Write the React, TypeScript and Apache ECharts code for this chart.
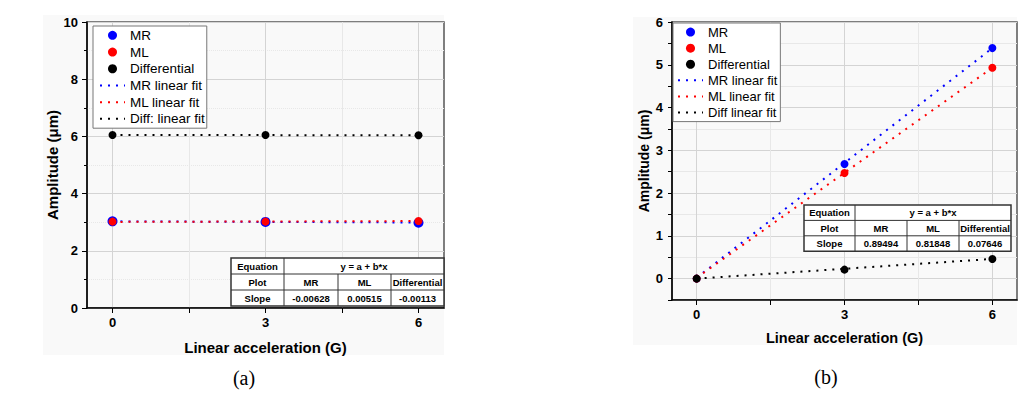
import React, { useEffect, useRef } from "react";
import * as echarts from "echarts";

// ---------- data ----------
const xValues = [0, 3, 6];
const fitX = [0, 6];

// panel (a)
const mrA = [3.03, 3.01, 2.98];
const mlA = [3.02, 3.02, 3.04];
const diffA = [6.05, 6.05, 6.04];
const mrFitA = [3.03, 2.99];
const mlFitA = [3.01, 3.04];
const diffFitA = [6.05, 6.04];

// panel (b)
const mrB = [0, 2.68, 5.39];
const mlB = [0, 2.47, 4.93];
const diffB = [0, 0.21, 0.46];
const mrFitB = [0.02, 5.39];
const mlFitB = [0.02, 4.93];
const diffFitB = [0.0, 0.46];

// ticks
const xTicks = [0, 1.5, 3, 4.5, 6];
const xTickLabels = [0, 3, 6];
const yTicksB = [-0.5, 0, 0.5, 1, 1.5, 2, 2.5, 3, 3.5, 4, 4.5, 5, 5.5, 6];
const yTickLabelsB = [0, 1, 2, 3, 4, 5, 6];

// legends
const legendA = ["MR", "ML", "Differential", "MR linear fit", "ML linear fit", "Diff: linear fit"];
const legendB = ["MR", "ML", "Differential", "MR linear fit", "ML linear fit", "Diff linear fit"];
const fitNames = ["MR linear fit", "ML linear fit", "Diff: linear fit", "Diff linear fit"];

// tables
const tableHeader = ["Equation", "y = a + b*x"];
const tableCols = ["Plot", "MR", "ML", "Differential"];
const slopeLabel = "Slope";
const slopesA = ["-0.00628", "0.00515", "-0.00113"];
const slopesB = ["0.89494", "0.81848", "0.07646"];

const captions = ["(a)", "(b)"];

// ---------- styles ----------
const SANS = "'Liberation Sans', Arial, sans-serif";
const BLUE = "#0000ff";
const RED = "#ff0000";
const BLACK = "#000000";
const MAJOR = "#d4d4d4";
const MINOR = "#e8e8e8";

function pts(xs: number[], ys: number[]) {
  return xs.map((x, i) => [x, ys[i]]);
}

function buildTable(x0: number, y0: number, colW: number[], rowH: number, slopes: string[], z: number) {
  const children: any[] = [];
  const totalW = colW.reduce((a, b) => a + b, 0);
  const totalH = rowH * 3;
  const font = `bold 9.5px ${SANS}`;
  const stroke = { stroke: "#333", lineWidth: 1 };
  children.push({
    type: "rect",
    z,
    shape: { x: x0, y: y0, width: totalW, height: totalH },
    style: { fill: "#ffffff", stroke: "#333", lineWidth: 1.5 },
  });
  for (let r = 1; r < 3; r++) {
    children.push({
      type: "line",
      z: z + 1,
      shape: { x1: x0, y1: y0 + r * rowH, x2: x0 + totalW, y2: y0 + r * rowH },
      style: stroke,
    });
  }
  let cx = x0;
  colW.forEach((w, i) => {
    cx += w;
    if (i < colW.length - 1) {
      children.push({
        type: "line",
        z: z + 1,
        shape: { x1: cx, y1: i === 0 ? y0 : y0 + rowH, x2: cx, y2: y0 + totalH },
        style: stroke,
      });
    }
  });
  const colCenters: number[] = [];
  let acc = x0;
  colW.forEach((w) => {
    colCenters.push(acc + w / 2);
    acc += w;
  });
  const txt = (s: string, x: number, y: number) => ({
    type: "text",
    z: z + 2,
    x,
    y,
    style: { text: s, font, fill: "#000", align: "center", verticalAlign: "middle" },
  });
  children.push(txt(tableHeader[0], colCenters[0], y0 + rowH / 2));
  children.push(txt(tableHeader[1], x0 + colW[0] + (totalW - colW[0]) / 2, y0 + rowH / 2));
  tableCols.forEach((c, i) => children.push(txt(c, colCenters[i], y0 + rowH * 1.5)));
  children.push(txt(slopeLabel, colCenters[0], y0 + rowH * 2.5));
  slopes.forEach((s, i) => children.push(txt(s, colCenters[i + 1], y0 + rowH * 2.5)));
  return children;
}

function xAxisCfg(gridIndex: number, nameGap: number, fontSize: number) {
  return {
    type: "value",
    gridIndex,
    min: -0.5,
    max: 6.5,
    name: "Linear acceleration (G)",
    nameLocation: "middle",
    nameGap,
    nameTextStyle: { fontFamily: SANS, fontWeight: "bold", fontSize, color: BLACK },
    axisLine: { show: true, onZero: false, lineStyle: { color: BLACK, width: 1.5 } },
    axisTick: { show: true, inside: false, length: 5, customValues: xTicks, lineStyle: { color: BLACK } },
    axisLabel: {
      customValues: xTickLabels,
      margin: 8,
      fontFamily: SANS,
      fontWeight: "bold",
      fontSize: 13,
      color: BLACK,
    },
    splitLine: { show: true, lineStyle: { color: [MAJOR, MINOR, MAJOR, MINOR, MAJOR], width: 1 } },
  };
}

function legendData(names: string[]) {
  return names.map((n) =>
    fitNames.indexOf(n) >= 0
      ? { name: n, itemStyle: { color: "rgba(0,0,0,0)", opacity: 0, borderWidth: 0 } }
      : { name: n }
  );
}

export default function App() {
  const ref = useRef<HTMLDivElement>(null);

  useEffect(() => {
    if (!ref.current) return;
    const chart = echarts.init(ref.current, null, { renderer: "svg" });

    const scatter = (name: string, data: number[][], color: string, size: number, xi: number, z: number) => ({
      type: "scatter",
      name,
      xAxisIndex: xi,
      yAxisIndex: xi,
      data,
      symbol: "circle",
      symbolSize: size,
      itemStyle: { color, opacity: 1 },
      z,
    });
    const fit = (name: string, data: number[][], color: string, xi: number) => ({
      type: "line",
      name,
      xAxisIndex: xi,
      yAxisIndex: xi,
      data,
      symbol: "none",
      showSymbol: false,
      lineStyle: { color, width: 2, type: [2, 6] },
      itemStyle: { color },
      z: 2,
    });

    const legendCommon = {
      orient: "vertical",
      itemWidth: 25,
      itemHeight: 9,
      itemGap: 0,
      selectedMode: false,
      borderColor: "#777",
      borderWidth: 1,
      backgroundColor: "#ffffff",
      borderRadius: 0,
    };

    const option: any = {
      animation: false,
      backgroundColor: "#ffffff",
      grid: [
        { left: 87, top: 22, width: 357, height: 286, show: true, borderColor: "#555", borderWidth: 1.5, backgroundColor: "transparent" },
        { left: 672, top: 22, width: 345, height: 278, show: true, borderColor: "#555", borderWidth: 1.5, backgroundColor: "transparent" },
      ],
      xAxis: [xAxisCfg(0, 32, 15), xAxisCfg(1, 30, 14.5)],
      yAxis: [
        {
          type: "value",
          gridIndex: 0,
          min: 0,
          max: 10,
          interval: 2,
          name: "Amplitude (\u03bcm)",
          nameLocation: "middle",
          nameGap: 26,
          nameTextStyle: { fontFamily: SANS, fontWeight: "bold", fontSize: 15, color: BLACK },
          axisLine: { show: true, onZero: false, lineStyle: { color: BLACK, width: 1.5 } },
          axisTick: { show: true, inside: false, length: 5, lineStyle: { color: BLACK } },
          minorTick: { show: true, splitNumber: 2, length: 3, lineStyle: { color: BLACK } },
          axisLabel: { margin: 9, fontFamily: SANS, fontWeight: "bold", fontSize: 13, color: BLACK },
          splitLine: { show: true, lineStyle: { color: MAJOR, width: 1 } },
          minorSplitLine: { show: true, lineStyle: { color: MINOR, width: 1, type: "dotted" } },
        },
        {
          type: "value",
          gridIndex: 1,
          min: -0.5,
          max: 6,
          name: "Amplitude (\u03bcm)",
          nameLocation: "middle",
          nameGap: 21,
          nameTextStyle: { fontFamily: SANS, fontWeight: "bold", fontSize: 14, color: BLACK },
          axisLine: { show: true, onZero: false, lineStyle: { color: BLACK, width: 1.5 } },
          axisTick: { show: true, inside: false, length: 4, customValues: yTicksB, lineStyle: { color: BLACK } },
          axisLabel: { customValues: yTickLabelsB, margin: 9, fontFamily: SANS, fontWeight: "bold", fontSize: 13, color: BLACK },
          splitLine: {
            show: true,
            lineStyle: { color: [MINOR, MAJOR], width: 1 },
          },
        },
      ],
      legend: [
        {
          ...legendCommon,
          left: 93,
          top: 26,
          padding: [1, 2, 1, 6],
          data: legendData(legendA),
          textStyle: { fontFamily: SANS, fontSize: 13.5, lineHeight: 16.7, color: BLACK },
        },
        {
          ...legendCommon,
          left: 673,
          top: 23,
          padding: [1, 3, 1, 4],
          data: legendData(legendB),
          textStyle: { fontFamily: SANS, fontSize: 13, lineHeight: 16.1, color: BLACK },
        },
      ],
      graphic: [
        { type: "rect", z: -10, silent: true, shape: { x: 43, y: 15, width: 401, height: 340 }, style: { fill: "#f9f9f9" } },
        { type: "rect", z: -10, silent: true, shape: { x: 633, y: 17, width: 384, height: 328 }, style: { fill: "#f9f9f9" } },
        ...buildTable(231, 258, [53, 54, 53, 53], 16, slopesA, 50),
        ...buildTable(804, 205, [51, 52, 52, 52], 15.4, slopesB, 50),
        {
          type: "text",
          x: 244,
          y: 378,
          style: { text: captions[0], font: "20px 'Liberation Serif', 'Times New Roman', serif", fill: BLACK, align: "center", verticalAlign: "middle" },
        },
        {
          type: "text",
          x: 826,
          y: 377,
          style: { text: captions[1], font: "20px 'Liberation Serif', 'Times New Roman', serif", fill: BLACK, align: "center", verticalAlign: "middle" },
        },
      ],
      series: [
        fit("MR linear fit", pts(fitX, mrFitA), BLUE, 0),
        fit("ML linear fit", pts(fitX, mlFitA), RED, 0),
        fit("Diff: linear fit", pts(fitX, diffFitA), BLACK, 0),
        scatter("MR", pts(xValues, mrA), BLUE, 10, 0, 3),
        scatter("ML", pts(xValues, mlA), RED, 8, 0, 4),
        scatter("Differential", pts(xValues, diffA), BLACK, 8, 0, 5),
        fit("MR linear fit", pts(fitX, mrFitB), BLUE, 1),
        fit("ML linear fit", pts(fitX, mlFitB), RED, 1),
        fit("Diff linear fit", pts(fitX, diffFitB), BLACK, 1),
        scatter("MR", pts(xValues, mrB), BLUE, 8, 1, 3),
        scatter("ML", pts(xValues, mlB), RED, 8, 1, 4),
        scatter("Differential", pts(xValues, diffB), BLACK, 8, 1, 5),
      ],
    };

    chart.setOption(option);
    return () => chart.dispose();
  }, []);

  return (
    <div
      ref={ref}
      style={{ position: "absolute", left: 0, top: 0, width: 1034, height: 394 }}
    />
  );
}
